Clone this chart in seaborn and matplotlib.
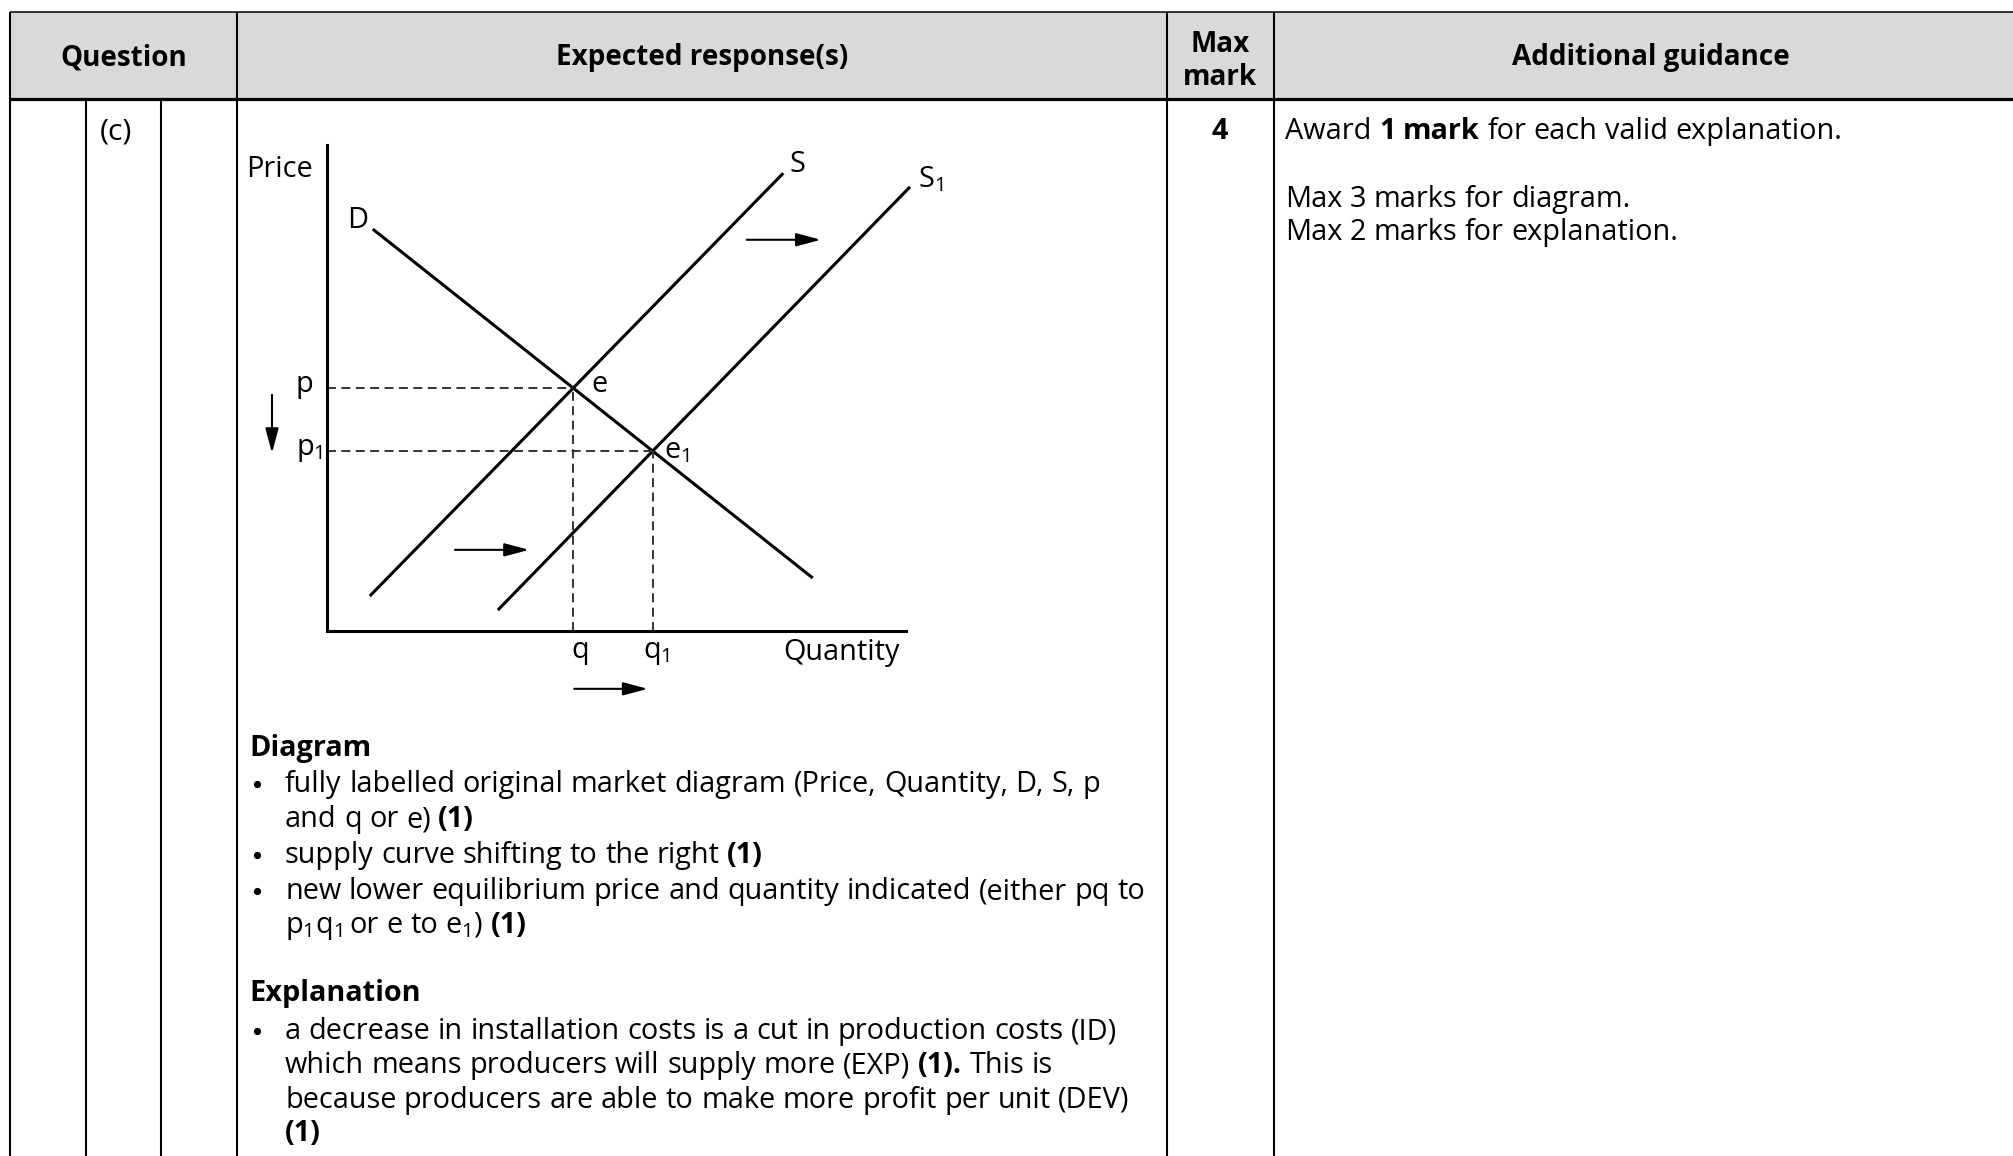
import os
import numpy as np
import pandas as pd
import matplotlib
matplotlib.use("Agg")
import matplotlib.pyplot as plt
from matplotlib.patches import Rectangle
from matplotlib import font_manager as fm
import seaborn as sns

# ---------------- data ----------------
curve_names = ["D", "S", "S1"]
curve_q_start = [7.9, 7.4, 29.5]
curve_p_start = [82.7, 7.2, 4.3]
curve_q_end = [83.9, 78.8, 100.7]
curve_p_end = [10.9, 94.2, 91.4]
curve_labels = ["D", "S", r"$\mathregular{S_1}$"]

eq_point_labels = ["e", r"$\mathregular{e_1}$"]
eq_price_labels = ["p", r"$\mathregular{p_1}$"]
eq_qty_labels = ["q", r"$\mathregular{q_1}$"]

header_labels = ["Question", "Expected response(s)", "Max\nmark", "Additional guidance"]
question_part = "(c)"
max_mark = "4"

# ---------------- style ----------------
sns.set_theme(style="white")


def has_bold(fam):
    try:
        p = fm.findfont(fm.FontProperties(family=fam, weight="bold"), fallback_to_default=False)
    except Exception:
        return False
    name = os.path.basename(p).lower()
    return ("bold" in name) or ("-b" in name) or ("bd" in name) or ("wght" in name)


FAM = "DejaVu Sans"
for cand in ["Open Sans", "Noto Sans", "Roboto", "Lato", "Liberation Sans"]:
    if has_bold(cand):
        FAM = cand
        break

plt.rcParams["font.family"] = [FAM, "DejaVu Sans"]
plt.rcParams["mathtext.fontset"] = "custom"
plt.rcParams["mathtext.rm"] = FAM
plt.rcParams["text.color"] = "black"

W, H = 2013, 1156
fig = plt.figure(figsize=(W / 100, H / 100), dpi=100)
fig.patch.set_facecolor("white")
bg = fig.add_axes([0, 0, 1, 1])
bg.set_xlim(0, W)
bg.set_ylim(H, 0)
bg.axis("off")
renderer = fig.canvas.get_renderer()


def text_w(s, size, weight="normal"):
    t = bg.text(0, 0, s, fontsize=size, fontweight=weight)
    w = t.get_window_extent(renderer).width
    t.remove()
    return w


body_size = 20 * 856 / text_w("new lower equilibrium price and quantity indicated (either pq to", 20)
head_size = 20 * 293 / text_w("Expected response(s)", 20, "bold")


def rich(x, y, segs, size=None):
    size = size or body_size
    cx = x
    for s, bold in segs:
        wt = "bold" if bold else "normal"
        sp = text_w("a a", size, wt) - text_w("aa", size, wt)
        parts = s.split(" ")
        for j, part in enumerate(parts):
            if j > 0:
                cx += sp
            if part:
                t = bg.text(cx, y, part, fontsize=size, fontweight=wt, va="baseline", ha="left")
                cx += t.get_window_extent(renderer).width


def bullet(y):
    bg.plot([257], [y - 8], marker="o", ms=5.2, color="black", mec="none")


# ---------------- table ----------------
bg.add_patch(Rectangle((10, 12), W - 10, 87, facecolor="#d9d9d9", edgecolor="none", zorder=0))
bg.plot([10, W], [12, 12], color="black", lw=1.1, solid_capstyle="butt")
bg.plot([10, W], [99, 99], color="black", lw=2.3, solid_capstyle="butt")
for x, y0 in [(10, 12), (86, 99), (161, 99), (237, 12), (1167, 12), (1274, 12)]:
    bg.plot([x, x], [y0, H], color="black", lw=1.5, solid_capstyle="butt")

bg.text(124, 65, header_labels[0], fontsize=head_size, fontweight="bold", ha="center", va="baseline")
bg.text(702, 65, header_labels[1], fontsize=head_size, fontweight="bold", ha="center", va="baseline")
mx = header_labels[2].split("\n")
bg.text(1220, 52, mx[0], fontsize=head_size, fontweight="bold", ha="center", va="baseline")
bg.text(1220, 85, mx[1], fontsize=head_size, fontweight="bold", ha="center", va="baseline")
bg.text(1651, 65, header_labels[3], fontsize=head_size, fontweight="bold", ha="center", va="baseline")

bg.text(100, 139, question_part, fontsize=body_size * 1.05, ha="left", va="baseline")
bg.text(1220, 139, max_mark, fontsize=body_size, fontweight="bold", ha="center", va="baseline")

rich(1285, 139, [("Award ", False), ("1 mark", True), (" for each valid explanation.", False)])
rich(1285, 207, [("Max 3 marks for diagram.", False)])
rich(1285, 240, [("Max 2 marks for explanation.", False)])

# response text
text_x = 285
rich(249, 756, [("Diagram", True)])
bullet_lines = [
    (792, True, [("fully labelled original market diagram (Price, Quantity, D, S, p", False)]),
    (827, False, [("and q or e) ", False), ("(1)", True)]),
    (863, True, [("supply curve shifting to the right ", False), ("(1)", True)]),
    (899, True, [("new lower equilibrium price and quantity indicated (either pq to", False)]),
    (933, False, [(r"$\mathregular{p_1q_1}$ or e to $\mathregular{e_1}$) ", False), ("(1)", True)]),
]
for y, has_b, segs in bullet_lines:
    if has_b:
        bullet(y)
    rich(text_x, y, segs)

rich(249, 1001, [("Explanation", True)])
expl_lines = [
    (1039, True, [("a decrease in installation costs is a cut in production costs (ID)", False)]),
    (1073, False, [("which means producers will supply more (EXP) ", False), ("(1).", True), (" This is", False)]),
    (1108, False, [("because producers are able to make more profit per unit (DEV)", False)]),
    (1141, False, [("(1)", True)]),
]
for y, has_b, segs in expl_lines:
    if has_b:
        bullet(y)
    rich(text_x, y, segs)

# ---------------- diagram ----------------
x0px, y0px = 327, 631
sx, sy = 5.79, 4.86
xmax, ymax = 102, 100
ax = fig.add_axes([x0px / W, (H - y0px) / H, xmax * sx / W, ymax * sy / H])
ax.patch.set_alpha(0)

rows = []
for n, q0, p0, q1, p1 in zip(curve_names, curve_q_start, curve_p_start, curve_q_end, curve_p_end):
    rows.append({"curve": n, "quantity": q0, "price": p0})
    rows.append({"curve": n, "quantity": q1, "price": p1})
df = pd.DataFrame(rows)
sns.lineplot(data=df, x="quantity", y="price", hue="curve", palette={n: "black" for n in curve_names},
             sort=False, estimator=None, legend=False, linewidth=2.2, ax=ax)
for l in ax.lines:
    l.set_clip_on(False)
    l.set_solid_capstyle("butt")


def line_params(i):
    m = (curve_p_end[i] - curve_p_start[i]) / (curve_q_end[i] - curve_q_start[i])
    return m, curve_p_start[i] - m * curve_q_start[i]


mD, bD = line_params(0)
eqs = []
for i in (1, 2):
    m, b = line_params(i)
    qe = (b - bD) / (mD - m)
    eqs.append((qe, mD * qe + bD))

for qe, pe in eqs:
    ax.plot([0, qe], [pe, pe], color="#333333", lw=1.4, dashes=(4.6, 2.8), clip_on=False)
    ax.plot([qe, qe], [0, pe], color="#333333", lw=1.4, dashes=(4.6, 2.8), clip_on=False)

ax.set_xlim(0, xmax)
ax.set_ylim(0, ymax)
ax.set_xticks([])
ax.set_yticks([])
ax.set_xlabel("")
ax.set_ylabel("")
for s in ["top", "right"]:
    ax.spines[s].set_visible(False)
for s in ["left", "bottom"]:
    ax.spines[s].set_visible(True)
    ax.spines[s].set_color("black")
    ax.spines[s].set_linewidth(2.2)
ax.spines["left"].set_bounds(0, 100)
ax.spines["bottom"].set_bounds(0, 100)

fs = body_size
kw = dict(textcoords="offset pixels", annotation_clip=False, fontsize=fs, va="baseline")
ax.annotate("Price", xy=(0, 100), xytext=(-14, -32), ha="right", **kw)
ax.annotate("Quantity", xy=(100, 0), xytext=(-6, -29), ha="right", **kw)
ax.annotate(curve_labels[0], xy=(curve_q_start[0], curve_p_start[0]), xytext=(-5, 1), ha="right", **kw)
ax.annotate(curve_labels[1], xy=(curve_q_end[1], curve_p_end[1]), xytext=(6, 1), ha="left", **kw)
ax.annotate(curve_labels[2], xy=(curve_q_end[2], curve_p_end[2]), xytext=(8, 0), ha="left", **kw)
for (qe, pe), el, pl, off in zip(eqs, eq_point_labels, eq_price_labels, [(18, -4), (11, -7)]):
    ax.annotate(el, xy=(qe, pe), xytext=off, ha="left", **kw)
    ax.annotate(pl, xy=(0, pe), xytext=(-31, -4), ha="left", **kw)
ax.annotate(eq_qty_labels[0], xy=(eqs[0][0], 0), xytext=(7, -27), ha="center", **kw)
ax.annotate(eq_qty_labels[1], xy=(eqs[1][0], 0), xytext=(4, -27), ha="center", **kw)

aprops = dict(arrowstyle="-|>,head_length=1.5,head_width=0.4", mutation_scale=10, lw=1.5,
              color="black", shrinkA=0, shrinkB=0)
for start, end in [((72.5, 80.5), (85.3, 80.5)), ((22.1, 16.7), (34.9, 16.7)),
                   ((42.7, -11.9), (55.4, -11.9)), ((-9.5, 48.6), (-9.5, 36.6))]:
    ax.annotate("", xy=end, xytext=start, arrowprops=aprops, annotation_clip=False)

fig.savefig("out.png", dpi=100)
